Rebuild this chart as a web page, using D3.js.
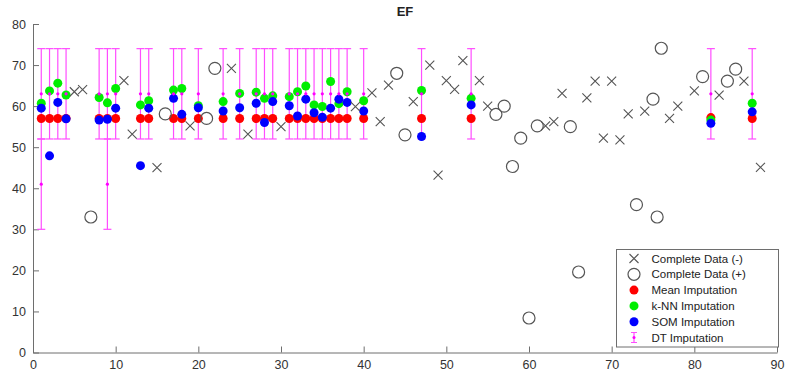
<!DOCTYPE html>
<html>
<head>
<meta charset="utf-8">
<script src="https://cdn.jsdelivr.net/npm/d3@7"></script>
<style>
  body { margin: 0; background: #fff; }
  #chart { width: 791px; height: 380px; }
  text { font-family: "Liberation Sans", Arial, sans-serif; }
</style>
</head>
<body>
<div id="chart"></div>
<script>
// complete data (-)
const negIdx = [5, 6, 11, 12, 15, 19, 24, 26, 30, 39, 41, 42, 43, 46, 48, 49, 50, 51, 52, 54, 55, 62, 63, 64, 67, 68, 69, 70, 71, 72, 74, 77, 78, 80, 83, 86, 88];
const negVal = [63.5, 64, 66.2, 53.2, 45, 55.2, 69.2, 53.2, 55, 59.9, 63.2, 56.2, 65.1, 61.1, 70, 43.2, 66.2, 64.1, 71.1, 66.2, 60, 55.2, 56.2, 63.1, 62, 66.1, 52.2, 66.1, 51.8, 58.1, 58.8, 57, 60, 63.7, 62.7, 66.1, 45.1];

// complete data (+)
const posIdx = [7, 16, 21, 22, 44, 45, 56, 57, 58, 59, 60, 61, 65, 66, 73, 75, 76, 75.5, 81, 84, 85];
const posVal = [33, 58.1, 57, 69.2, 68, 53, 58, 60, 45.3, 52.2, 8.4, 55.2, 55, 19.6, 36, 61.7, 74.1, 33, 67.2, 66.1, 69];

// imputed records
const impIdx = [1, 2, 3, 4, 8, 9, 10, 13, 14, 17, 18, 20, 23, 25, 27, 28, 29, 31, 32, 33, 34, 35, 36, 37, 38, 40, 47, 53, 82, 87];
const meanVal = [57, 57, 57, 57, 57, 57, 57, 57, 57, 57, 57, 57, 57, 57, 57, 57, 57, 57, 57, 57, 57, 57, 57, 57, 57, 57, 57, 57, 57.2, 57];
const knnVal = [60.7, 63.7, 65.6, 62.7, 62.1, 60.8, 64.3, 60.3, 61.3, 63.9, 64.3, 60.1, 61.1, 63.1, 63.4, 61.9, 62.5, 62.3, 63.5, 64.9, 60.3, 59.9, 66.0, 60.6, 63.5, 61.3, 63.8, 61.9, 56.6, 60.7];
const somVal = [59.5, 47.9, 60.9, 56.9, 56.6, 56.8, 59.5, 45.5, 59.5, 61.9, 58.0, 59.6, 58.8, 59.6, 60.7, 56.0, 61.1, 60.1, 57.6, 61.7, 58.4, 57.3, 59.5, 61.7, 60.9, 58.8, 52.6, 60.3, 55.8, 58.6];

// decision tree imputation ranges (records 1 and 9 have a second range)
const dtIdx = impIdx.concat([1, 9]);
const dtMid = impIdx.map(() => 63).concat([41, 41]);
const dtLow = impIdx.map(() => 52).concat([30, 30]);
const dtHigh = impIdx.map(() => 74).concat([52, 52]);

const xTicks = [0, 10, 20, 30, 40, 50, 60, 70, 80, 90];
const yTicks = [0, 10, 20, 30, 40, 50, 60, 70, 80];

const width = 791;
const height = 380;

const svg = d3
  .select("#chart")
  .append("svg")
  .attr("width", width)
  .attr("height", height);

const x = d3.scaleLinear().domain([0, 90]).range([33, 777]);
const y = d3.scaleLinear().domain([0, 80]).range([352.5, 24]);

// axes, ticks pointing inward like matlab
const xAxis = svg
  .append("g")
  .attr("transform", `translate(0,${y(0)})`)
  .call(d3.axisBottom(x).tickValues(xTicks).tickSize(-6).tickSizeOuter(0).tickPadding(8));
const yAxis = svg
  .append("g")
  .attr("transform", `translate(${x(0)},0)`)
  .call(d3.axisLeft(y).tickValues(yTicks).tickSize(-6).tickSizeOuter(0).tickPadding(7));

[xAxis, yAxis].forEach((g) => {
  g.select(".domain").attr("stroke", "#6e6e6e").attr("stroke-width", 1);
  g.selectAll(".tick line").attr("stroke", "#6e6e6e");
  g.selectAll(".tick text")
    .attr("fill", "#333")
    .style("font-size", "12.5px")
    .style("font-family", "'Liberation Sans', Arial, sans-serif");
});

// title
svg
  .append("text")
  .attr("x", (x(0) + x(90)) / 2)
  .attr("y", 16)
  .attr("text-anchor", "middle")
  .attr("font-weight", "bold")
  .attr("font-size", 13)
  .attr("fill", "#222")
  .text("EF");

const dtColor = "#ff4dff";
const cap = 4;

// DT error bars
const dt = svg
  .append("g")
  .selectAll("g")
  .data(dtIdx.map((d, i) => ({ i: d, mid: dtMid[i], lo: dtLow[i], hi: dtHigh[i] })))
  .enter()
  .append("g")
  .attr("stroke", dtColor)
  .attr("stroke-width", 1.2);

dt.append("line")
  .attr("x1", (d) => x(d.i))
  .attr("x2", (d) => x(d.i))
  .attr("y1", (d) => y(d.lo))
  .attr("y2", (d) => y(d.hi));
dt.append("line")
  .attr("x1", (d) => x(d.i) - cap)
  .attr("x2", (d) => x(d.i) + cap)
  .attr("y1", (d) => y(d.lo))
  .attr("y2", (d) => y(d.lo));
dt.append("line")
  .attr("x1", (d) => x(d.i) - cap)
  .attr("x2", (d) => x(d.i) + cap)
  .attr("y1", (d) => y(d.hi))
  .attr("y2", (d) => y(d.hi));

// imputed values
function dots(vals, color) {
  svg
    .append("g")
    .selectAll("circle")
    .data(impIdx.map((d, i) => [d, vals[i]]))
    .enter()
    .append("circle")
    .attr("cx", (d) => x(d[0]))
    .attr("cy", (d) => y(d[1]))
    .attr("r", 4.5)
    .attr("fill", color);
}
dots(meanVal, "#ff0000");
dots(knnVal, "#00ee00");
dots(somVal, "#0000ff");

// DT centre points
svg
  .append("g")
  .selectAll("circle")
  .data(dtIdx.map((d, i) => [d, dtMid[i]]))
  .enter()
  .append("circle")
  .attr("cx", (d) => x(d[0]))
  .attr("cy", (d) => y(d[1]))
  .attr("r", 1.6)
  .attr("fill", "#ff00ff");

const grey = "#555";
const xs = 4.5;

function cross(g, cx, cy) {
  g.append("path")
    .attr("d", `M${cx - xs},${cy - xs}L${cx + xs},${cy + xs}M${cx - xs},${cy + xs}L${cx + xs},${cy - xs}`)
    .attr("stroke", grey)
    .attr("stroke-width", 1.1)
    .attr("fill", "none");
}

// complete data markers
const negG = svg.append("g");
negIdx.forEach((d, i) => cross(negG, x(d), y(negVal[i])));

svg
  .append("g")
  .selectAll("circle")
  .data(posIdx.map((d, i) => [d, posVal[i]]))
  .enter()
  .append("circle")
  .attr("cx", (d) => x(d[0]))
  .attr("cy", (d) => y(d[1]))
  .attr("r", 6)
  .attr("fill", "none")
  .attr("stroke", grey)
  .attr("stroke-width", 1.2);

// legend
const legend = svg.append("g");
legend
  .append("rect")
  .attr("x", 616.5)
  .attr("y", 249.5)
  .attr("width", 162)
  .attr("height", 97.5)
  .attr("fill", "#fff")
  .attr("stroke", "#6e6e6e");

const labels = ["Complete Data (-)", "Complete Data (+)", "Mean Imputation", "k-NN Imputation", "SOM Imputation", "DT Imputation"];
const rowY = (i) => 258.5 + i * 15.8;
const mx = 634;

cross(legend, mx, rowY(0));
legend.append("circle").attr("cx", mx).attr("cy", rowY(1)).attr("r", 6)
  .attr("fill", "none").attr("stroke", grey).attr("stroke-width", 1.2);
legend.append("circle").attr("cx", mx).attr("cy", rowY(2)).attr("r", 4.5).attr("fill", "#ff0000");
legend.append("circle").attr("cx", mx).attr("cy", rowY(3)).attr("r", 4.5).attr("fill", "#00ee00");
legend.append("circle").attr("cx", mx).attr("cy", rowY(4)).attr("r", 4.5).attr("fill", "#0000ff");
const ly = rowY(5);
legend.append("path")
  .attr("d", `M${mx},${ly - 5}V${ly + 5}M${mx - 3},${ly - 5}H${mx + 3}M${mx - 3},${ly + 5}H${mx + 3}`)
  .attr("stroke", dtColor)
  .attr("stroke-width", 1.2);
legend.append("circle").attr("cx", mx).attr("cy", ly).attr("r", 1.5).attr("fill", "#ff00ff");

legend
  .selectAll("text")
  .data(labels)
  .enter()
  .append("text")
  .attr("x", 651.5)
  .attr("y", (d, i) => rowY(i))
  .attr("dy", "0.35em")
  .attr("font-size", "11.5px")
  .attr("fill", "#222")
  .text((d) => d);
</script>
</body>
</html>
